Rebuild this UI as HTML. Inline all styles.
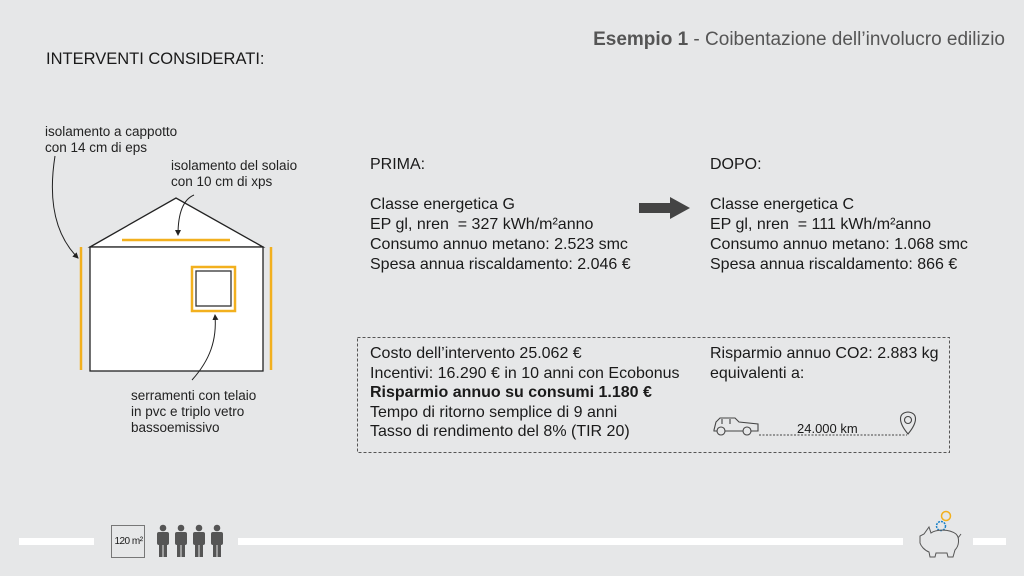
<!DOCTYPE html>
<html><head><style>
body{margin:0;width:1024px;height:576px;background:#e6e7e8;overflow:hidden;position:relative;font-family:"Liberation Sans",sans-serif;color:#1a1a1a}
.t{position:absolute;white-space:nowrap}
.s{font-size:13.5px;line-height:16px;color:#222}
.m{font-size:16px;line-height:20px}
</style></head><body>
<div class="t" style="right:19px;top:29px;font-size:19px;color:#555"><b>Esempio 1</b> - Coibentazione dell’involucro edilizio</div>
<div class="t" style="left:46px;top:50px;font-size:16.5px">INTERVENTI CONSIDERATI:</div>
<div class="t s" style="left:45px;top:124px">isolamento a cappotto<br>con 14 cm di eps</div>
<div class="t s" style="left:171px;top:158px">isolamento del solaio<br>con 10 cm di xps</div>
<div class="t s" style="left:131px;top:388px">serramenti con telaio<br>in pvc e triplo vetro<br>bassoemissivo</div>
<svg style="position:absolute;left:0;top:0" width="1024" height="576">
<defs><marker id="a" markerWidth="6" markerHeight="6" refX="5" refY="3" orient="auto"><path d="M0,0 L6,3 L0,6z" fill="#222"/></marker></defs>
<polygon points="90,247 176,198 263,247" fill="#fff" stroke="#222" stroke-width="1.3"/>
<rect x="90" y="247" width="173" height="124" fill="#fff" stroke="#222" stroke-width="1.3"/>
<line x1="81" y1="247" x2="81" y2="370" stroke="#f2b01e" stroke-width="2.5"/>
<line x1="271" y1="247" x2="271" y2="370" stroke="#f2b01e" stroke-width="2.5"/>
<line x1="122" y1="240" x2="230" y2="240" stroke="#f2b01e" stroke-width="2.5"/>
<rect x="192" y="267" width="43" height="44" fill="#fff" stroke="#f2b01e" stroke-width="2.5"/>
<rect x="196" y="271" width="35" height="35" fill="#fff" stroke="#333" stroke-width="1.3"/>
<path d="M55,156 C48,200 55,235 78,258" fill="none" stroke="#222" marker-end="url(#a)"/>
<path d="M194,195 C182,200 178,215 178,235" fill="none" stroke="#222" marker-end="url(#a)"/>
<path d="M192,380 C210,360 217,340 215,315" fill="none" stroke="#222" marker-end="url(#a)"/>
<polygon points="639,203 670,203 670,197 690,208 670,219 670,213 639,213" fill="#444"/>
<rect x="357.5" y="337.5" width="592" height="115" fill="none" stroke="#555" stroke-dasharray="3,2"/>
<g fill="none" stroke="#444" stroke-width="1.1">
<path d="M714,430 L716,422 L720,418 L735,418 L739,422 L758,424 L758,431 L714,431z"/>
<path d="M722,419 L722,424 M730,419 L730,424"/>
<circle cx="721" cy="431" r="4" fill="#e6e7e8"/><circle cx="747" cy="431" r="4" fill="#e6e7e8"/>
<path d="M908,434 C898,422 898,413 908,412 C918,413 918,422 908,434z"/><circle cx="908" cy="420" r="3.5"/>
</g>
<line x1="759" y1="435" x2="907" y2="435" stroke="#444" stroke-dasharray="2,1.5"/>
<rect x="19" y="538" width="75" height="7" fill="#fff"/>
<rect x="238" y="538" width="665" height="7" fill="#fff"/>
<rect x="973" y="538" width="33" height="7" fill="#fff"/>
<rect x="111.5" y="525.5" width="33" height="32" fill="none" stroke="#777"/>
<g fill="#555">
<g id="p"><circle cx="163" cy="528" r="3.3"/><rect x="157" y="532" width="12" height="13" rx="2"/><rect x="159" y="544" width="3.5" height="13"/><rect x="163.5" y="544" width="3.5" height="13"/></g>
<use href="#p" x="18"/><use href="#p" x="36"/><use href="#p" x="54"/>
</g>
<circle cx="946" cy="516" r="4.5" fill="none" stroke="#f2b01e" stroke-width="1.5"/>
<circle cx="941" cy="526" r="4.5" fill="none" stroke="#1b82c8" stroke-width="1.5" stroke-dasharray="2,1"/>
<path d="M929,527 L931,533 C935,530 948,528 956,534 C960,538 959,546 955,550 L953,557 L948,557 L947,553 L936,553 L935,557 L930,557 L929,552 C924,550 921,546 920,543 L920,536 L924,534z M958,538 L961,534" fill="none" stroke="#555" stroke-width="1"/>
</svg>
<div class="t" style="left:112px;top:536px;width:33px;text-align:center;font-size:10px;letter-spacing:-0.5px">120 m²</div>
<div class="t m" style="left:370px;top:155px">PRIMA:<br><br>Classe energetica G<br>EP gl, nren &nbsp;= 327 kWh/m²anno<br>Consumo annuo metano: 2.523 smc<br>Spesa annua riscaldamento: 2.046 €</div>
<div class="t m" style="left:710px;top:155px">DOPO:<br><br>Classe energetica C<br>EP gl, nren &nbsp;= 111 kWh/m²anno<br>Consumo annuo metano: 1.068 smc<br>Spesa annua riscaldamento: 866 €</div>
<div class="t m" style="left:370px;top:344px;line-height:19.5px">Costo dell’intervento 25.062 €<br>Incentivi: 16.290 € in 10 anni con Ecobonus<br><b>Risparmio annuo su consumi 1.180 €</b><br>Tempo di ritorno semplice di 9 anni<br>Tasso di rendimento del 8% (TIR 20)</div>
<div class="t m" style="left:710px;top:344px;line-height:19.5px">Risparmio annuo CO2: 2.883 kg<br>equivalenti a:</div>
<div class="t" style="left:797px;top:421px;font-size:13px">24.000 km</div>
</body></html>
